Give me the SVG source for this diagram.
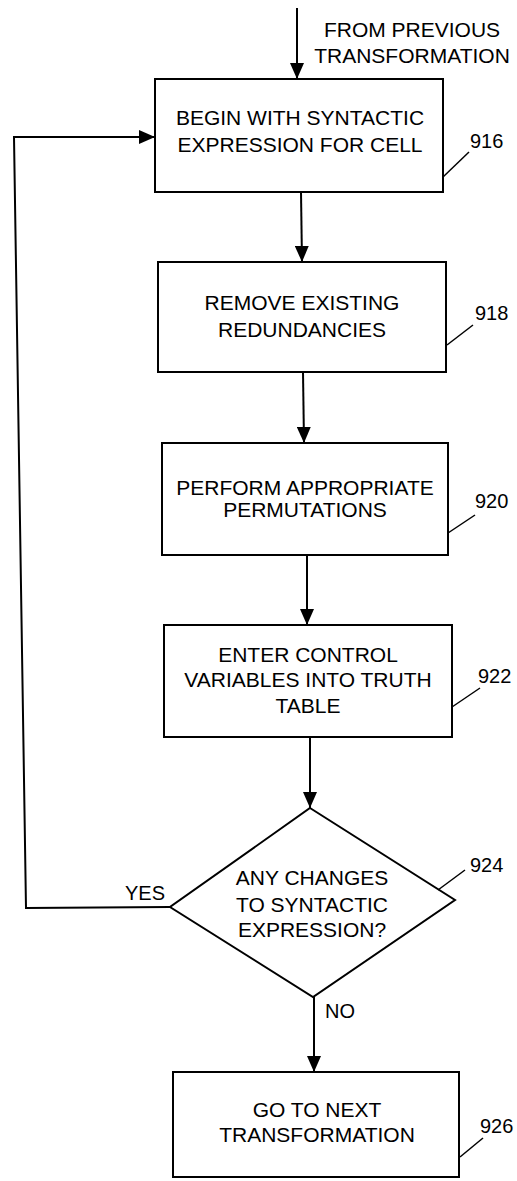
<svg xmlns="http://www.w3.org/2000/svg" width="517" height="1181" viewBox="0 0 517 1181">
<style>
.box{fill:#fff;stroke:#000;stroke-width:2}
.t{font-family:"Liberation Sans",Arial,sans-serif;font-size:21px;fill:#000;text-anchor:middle}
.n{font-family:"Liberation Sans",Arial,sans-serif;font-size:20px;fill:#000}
.c{fill:none;stroke:#000;stroke-width:2}
.ld{fill:none;stroke:#000;stroke-width:1.5}
</style>
<defs>
<marker id="ah" markerUnits="userSpaceOnUse" markerWidth="17" markerHeight="14" refX="16" refY="7" orient="auto">
<path d="M0,0 L16,7 L0,14 z" fill="#000"/>
</marker>
</defs>
<g id="connectors">
<line class="c" x1="297" y1="8" x2="297" y2="79" marker-end="url(#ah)"/>
<line class="c" x1="301" y1="192" x2="302" y2="262" marker-end="url(#ah)"/>
<line class="c" x1="303" y1="372" x2="304" y2="443" marker-end="url(#ah)"/>
<line class="c" x1="307" y1="555" x2="307" y2="625" marker-end="url(#ah)"/>
<line class="c" x1="310" y1="737" x2="310" y2="808" marker-end="url(#ah)"/>
<line class="c" x1="314" y1="997" x2="314" y2="1072" marker-end="url(#ah)"/>
<polyline class="c" points="170,907 26,908 14,137 155,137" marker-end="url(#ah)"/>
<text class="n" x="125" y="900">YES</text>
<text class="n" x="325" y="1018">NO</text>
</g>
<g id="start-label">
<text class="t" x="412" y="37">FROM PREVIOUS</text>
<text class="t" x="412" y="63">TRANSFORMATION</text>
</g>
<g id="n916">
<rect class="box" x="155" y="79" width="288" height="113"/>
<text class="t" x="300" y="125">BEGIN WITH SYNTACTIC</text>
<text class="t" x="300" y="152">EXPRESSION FOR CELL</text>
<line class="ld" x1="443" y1="177" x2="469" y2="152"/>
<text class="n" x="470" y="148">916</text>
</g>
<g id="n918">
<rect class="box" x="158" y="262" width="288" height="110"/>
<text class="t" x="302" y="310">REMOVE EXISTING</text>
<text class="t" x="302" y="337">REDUNDANCIES</text>
<line class="ld" x1="447" y1="345" x2="473" y2="325"/>
<text class="n" x="475" y="320">918</text>
</g>
<g id="n920">
<rect class="box" x="162" y="443" width="286" height="112"/>
<text class="t" x="305" y="495">PERFORM APPROPRIATE</text>
<text class="t" x="305" y="517">PERMUTATIONS</text>
<line class="ld" x1="448" y1="533" x2="475" y2="515"/>
<text class="n" x="475" y="508">920</text>
</g>
<g id="n922">
<rect class="box" x="164" y="625" width="288" height="112"/>
<text class="t" x="308" y="662">ENTER CONTROL</text>
<text class="t" x="308" y="687">VARIABLES INTO TRUTH</text>
<text class="t" x="308" y="713">TABLE</text>
<line class="ld" x1="452" y1="707" x2="480" y2="688"/>
<text class="n" x="478" y="683">922</text>
</g>
<g id="n924">
<polygon class="box" points="310,808 455,900 313,997 170,907"/>
<text class="t" x="312" y="885">ANY CHANGES</text>
<text class="t" x="312" y="912">TO SYNTACTIC</text>
<text class="t" x="312" y="937">EXPRESSION?</text>
<line class="ld" x1="438" y1="890" x2="465" y2="870"/>
<text class="n" x="470" y="872">924</text>
</g>
<g id="n926">
<rect class="box" x="173" y="1072" width="286" height="105"/>
<text class="t" x="317" y="1117">GO TO NEXT</text>
<text class="t" x="317" y="1142">TRANSFORMATION</text>
<line class="ld" x1="460" y1="1157" x2="483" y2="1138"/>
<text class="n" x="480" y="1133">926</text>
</g>
</svg>
